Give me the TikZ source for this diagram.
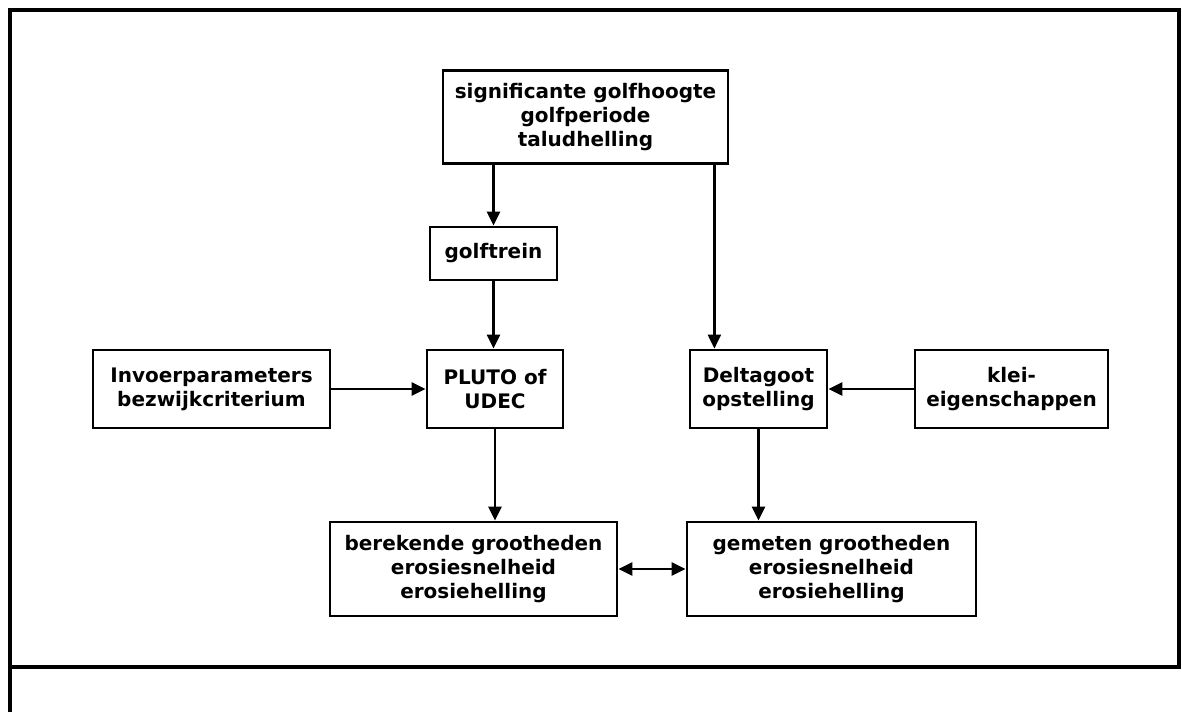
\documentclass[tikz,border=0pt]{standalone}
\usepackage{fontspec}
\setmainfont{DejaVu Sans}
\usetikzlibrary{arrows.meta}

\begin{document}
\begin{tikzpicture}[x=0.5pt, y=-0.5pt,
    blok/.style={draw, line width=1.4pt, align=center, inner sep=2pt,
        font=\bfseries\fontsize{10pt}{12pt}\selectfont},
    pijl/.style={line width=1.2pt, -{Triangle[length=7pt, width=6.5pt]}}]
    \useasboundingbox (0,0) rectangle (1182,712);
    % kader
    \draw[line width=1.8pt] (10,712) -- (10,10) -- (1179,10) -- (1179,667) -- (10,667);
    % blokken
    \node[blok, minimum width=142.5pt, minimum height=46.5pt] (golf) at (585.5,117)
        {significante golfhoogte\\golfperiode\\taludhelling};
    \node[blok, minimum width=63.5pt, minimum height=26.5pt] (trein) at (493.5,253.5) {golftrein};
    \node[blok, minimum width=118.5pt, minimum height=39pt] (invoer) at (211.5,389)
        {Invoerparameters\\bezwijkcriterium};
    \node[blok, minimum width=68pt, minimum height=39pt] (pluto) at (495,389) {PLUTO of\\UDEC};
    \node[blok, minimum width=68.5pt, minimum height=39pt] (delta) at (758.5,389) {Deltagoot\\opstelling};
    \node[blok, minimum width=96.5pt, minimum height=39pt] (klei) at (1011.5,389) {klei-\\eigenschappen};
    \node[blok, minimum width=143.5pt, minimum height=47pt] (berek) at (473.5,569)
        {berekende grootheden\\erosiesnelheid\\erosiehelling};
    \node[blok, minimum width=144.5pt, minimum height=47pt] (gemet) at (831.5,569)
        {gemeten grootheden\\erosiesnelheid\\erosiehelling};
    \coordinate (tak) at ([xshift=-7.5pt]golf.south east);
    % verbindingen
    \path[pijl]
    (golf.south -| trein) edge (trein)
    (tak) edge (tak |- delta.north)
    (trein) edge (trein |- pluto.north)
    (invoer) edge (pluto)
    (klei) edge (delta)
    (pluto) edge (pluto |- berek.north)
    (delta) edge (delta |- gemet.north);
    \draw[pijl, {Triangle[length=7pt, width=6.5pt]}-{Triangle[length=7pt, width=6.5pt]}] (berek) -- (gemet);
\end{tikzpicture}
\end{document}
